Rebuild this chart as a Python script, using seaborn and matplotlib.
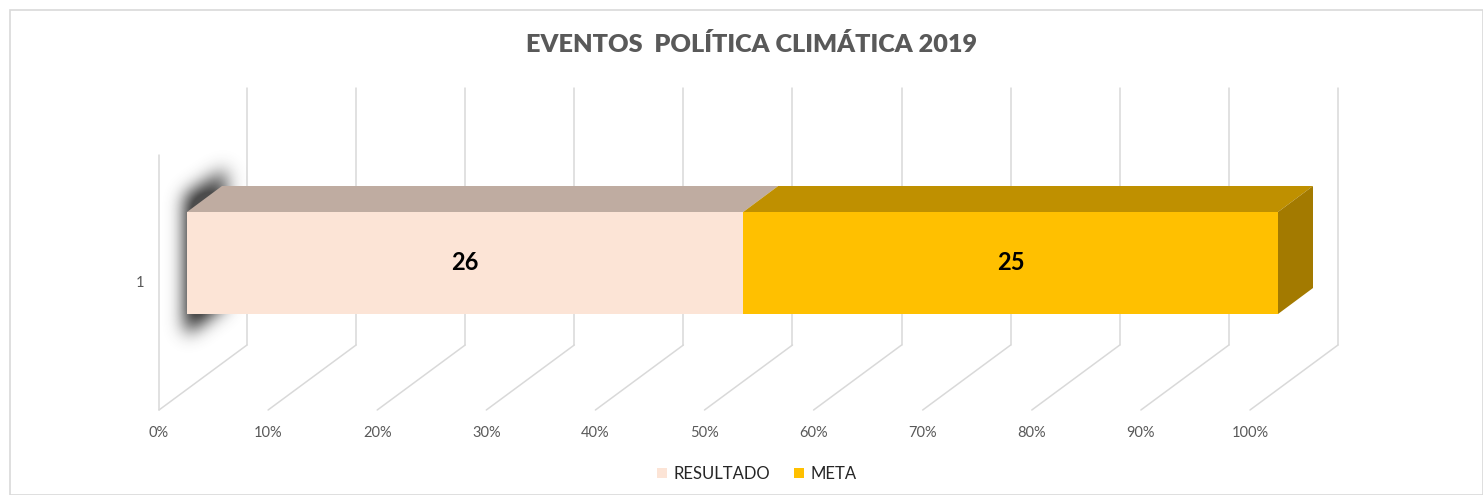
import numpy as np
import pandas as pd
import matplotlib
matplotlib.use("Agg")
import matplotlib.pyplot as plt
from matplotlib.patches import Polygon, Patch, Rectangle
import seaborn as sns

# ---------------- data ----------------
series = ["RESULTADO", "META"]
values = [26, 25]
category = ["1"]
tick_pct = [0, 10, 20, 30, 40, 50, 60, 70, 80, 90, 100]
tick_labels = [f"{t}%" for t in tick_pct]

# ---------------- style ----------------
sns.set_theme(style="white")
plt.rcParams["font.family"] = ["Lato", "DejaVu Sans"]

front_cols = ["#FCE4D6", "#FFC000"]
top_cols = ["#BFACA1", "#BF9000"]
side_col = "#A37A00"
grid_col = "#D9D9D9"
txt_col = "#595959"

W, H = 1483, 495
fig = plt.figure(figsize=(W / 100, H / 100), dpi=100)
ax = fig.add_axes([0, 0, 1, 1])

# pixel -> data mapping (1 unit = 1 percent on the bar plane)
S = 10.91          # px per unit
X0 = 187           # px of bar-plane 0%
Y0 = 410           # px of floor front
def px(x):
    return (x - X0) / S
def py(y):
    return (Y0 - y) / S

# geometry (layout)
wall_dx, wall_dy = 88 / S, 65 / S        # full depth of floor
bar_off_x, bar_off_y = 28 / S, 21 / S    # bar front plane depth
bar_dx, bar_dy = 35 / S, 26 / S          # bar depth
bar_top, bar_bot = py(212), py(314)
bar_c, bar_h = (bar_top + bar_bot) / 2, bar_top - bar_bot
floor_x0 = -bar_off_x
wall_top = py(88)

# ---------------- grid (3D walls) ----------------
for p in tick_pct:
    fx = floor_x0 + p
    ax.plot([fx, fx + wall_dx], [0, wall_dy], color=grid_col, lw=1.1, zorder=0.3)
    ax.plot([fx + wall_dx, fx + wall_dx], [wall_dy, wall_top], color=grid_col, lw=1.1, zorder=0.3)
ax.plot([floor_x0, floor_x0], [0, py(155)], color=grid_col, lw=1.1, zorder=0.3)

# ---------------- shadow on left ----------------
gx = np.arange(130, 290)
gy = np.arange(110, 400)
GX, GY = np.meshgrid(gx, gy)
l, r = 186, 226
t_l, t_r = 196, 168
b_l, b_r = 334, 306
frac = (GX - l) / (r - l)
top_edge = t_l + (t_r - t_l) * frac
bot_edge = b_l + (b_r - b_l) * frac
mask = ((GX >= l) & (GX <= r) & (GY >= top_edge) & (GY <= bot_edge)).astype(float)
mask *= np.clip(1.0 - 0.35 * frac, 0, 1)
def blur(a, s):
    k = np.arange(-3 * s, 3 * s + 1)
    k = np.exp(-k ** 2 / (2 * s * s)); k /= k.sum()
    a = np.apply_along_axis(lambda m: np.convolve(m, k, mode="same"), 0, a)
    a = np.apply_along_axis(lambda m: np.convolve(m, k, mode="same"), 1, a)
    return a
mask = blur(mask, 9)
img = np.zeros(mask.shape + (4,))
img[..., :3] = 0.22
img[..., 3] = np.clip(mask * 1.35, 0, 0.9)
ax.imshow(img, extent=[px(gx[0]), px(gx[-1]), py(gy[-1]), py(gy[0])],
          origin="upper", zorder=0.5, aspect="auto", interpolation="bilinear")

# ---------------- bars ----------------
total = sum(values)
pct = [100 * v / total for v in values]
cum = np.cumsum(pct)
starts = np.concatenate([[0], cum[:-1]])

df = pd.DataFrame({"serie": series, "cum": cum, "pos": [bar_c] * len(series)})
# draw from last (longest) to first so the stacking is visible
for i in reversed(range(len(series))):
    sub = df.iloc[[i]]
    sns.barplot(data=sub, x="cum", y="pos", orient="h", native_scale=True,
                width=bar_h, color=front_cols[i], saturation=1, ax=ax,
                linewidth=0, zorder=2)

for i in range(len(series)):
    s, e = starts[i], cum[i]
    ax.add_patch(Polygon([[s, bar_top], [e, bar_top], [e + bar_dx, bar_top + bar_dy],
                          [s + bar_dx, bar_top + bar_dy]], closed=True,
                         facecolor=top_cols[i], edgecolor="none", zorder=2))
ax.add_patch(Polygon([[cum[-1], bar_bot], [cum[-1], bar_top],
                      [cum[-1] + bar_dx, bar_top + bar_dy], [cum[-1] + bar_dx, bar_bot + bar_dy]],
                     closed=True, facecolor=side_col, edgecolor="none", zorder=2))

# value labels
for i in range(len(series)):
    ax.text((starts[i] + cum[i]) / 2, bar_c, str(values[i]), ha="center", va="center",
            fontsize=17, fontweight="bold", color="black", zorder=5)

# tick labels
for p, lab in zip(tick_pct, tick_labels):
    ax.text(floor_x0 + p, py(433), lab, ha="center", va="center", fontsize=10.5, color=txt_col)
ax.text(px(140), py(283), category[0], ha="center", va="center", fontsize=10.5, color=txt_col)

ax.set_xlim(px(0), px(W))
ax.set_ylim(py(H), py(0))
ax.axis("off")

# title
fig.text(751 / W, 1 - 45 / H, "EVENTOS  POLÍTICA CLIMÁTICA 2019", ha="center", va="center",
         fontsize=18.2, fontweight="heavy", color=txt_col)

# legend
handles = [Patch(facecolor=front_cols[i], edgecolor="none", label=series[i]) for i in range(len(series))]
fig.legend(handles=handles, loc="center", bbox_to_anchor=(757 / W, 1 - 474 / H), ncol=2,
           frameon=False, fontsize=12, handlelength=0.6, handleheight=0.6,
           handletextpad=0.4, columnspacing=1.4, labelcolor="#262626")

# outer border
fig.patches.append(Rectangle((10 / W, 0), (W - 10) / W, (H - 10) / H, transform=fig.transFigure,
                             fill=False, edgecolor=grid_col, lw=1.2))

fig.savefig("out.png", dpi=100)
